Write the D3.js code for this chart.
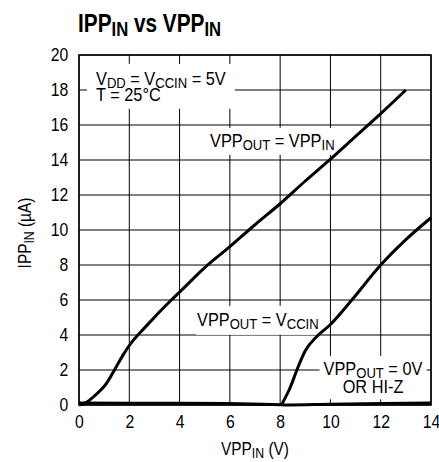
<!DOCTYPE html>
<html>
<head>
<meta charset="utf-8">
<script src="https://cdn.jsdelivr.net/npm/d3@7"></script>
<style>
  body { margin: 0; background: #fff; }
  svg text { font-family: "Liberation Sans Narrow", "Arial Narrow", "Liberation Sans", Arial, sans-serif; fill: #000; }
</style>
</head>
<body>
<div id="chart"></div>
<script>
// values (VPPIN in V, IPPIN in uA)
const xTicks = [0, 2, 4, 6, 8, 10, 12, 14];
const yTicks = [0, 2, 4, 6, 8, 10, 12, 14, 16, 18, 20];

// VPPOUT = VPPIN
const curveFollowX = [0, 0.3, 0.6, 1.1, 1.45, 1.75, 2, 2.7, 3.6, 4, 5, 6, 7, 8, 9, 10, 11, 12, 13];
const curveFollowY = [0, 0.15, 0.5, 1.25, 2.1, 2.85, 3.4, 4.55, 5.9, 6.45, 7.85, 9.05, 10.3, 11.5, 12.8, 14.05, 15.35, 16.65, 18.0];

// VPPOUT = VCCIN
const curveVccX = [8.05, 8.4, 8.72, 9.0, 9.45, 10, 10.85, 12, 13, 14];
const curveVccY = [0, 1.0, 2.2, 3.1, 3.9, 4.6, 6.0, 8.0, 9.45, 10.7];

// VPPOUT = 0V or HI-Z
const curveOffX = [0, 2, 4, 6, 8, 8.2, 10, 12, 14];
const curveOffY = [0.12, 0.1, 0.1, 0.08, 0.02, 0, 0.04, 0.08, 0.12];

const W = 439, H = 462;
const plot = { left: 79, right: 431, top: 55, bottom: 405 };
// no condensed face installed, so squeeze the regular one
const NARROW = 0.86;

const svg = d3.select("#chart").append("svg")
    .attr("width", W)
    .attr("height", H);

const x = d3.scaleLinear().domain([0, 14]).range([plot.left, plot.right]);
const y = d3.scaleLinear().domain([0, 20]).range([plot.bottom, plot.top]);

// text with subscripts: parts = [[text, isSub], ...]
const richText = (g, px, py, parts, size, anchor, subShift = 0.18) => {
    const t = g.append("text")
        .attr("x", px).attr("y", py)
        .attr("font-size", size)
        .attr("text-anchor", anchor || "start");
    let shifted = false;
    parts.forEach(([s, sub]) => {
        const ts = t.append("tspan").text(s);
        if (sub && !shifted) { ts.attr("font-size", size * 0.8).attr("dy", size * subShift); shifted = true; }
        else if (sub) ts.attr("font-size", size * 0.8);
        else if (shifted) { ts.attr("dy", -size * subShift); shifted = false; }
    });
    return t;
}

const squeezed = (parent, px, py, sx) => parent.append("g")
    .attr("transform", `translate(${px},${py}) scale(${sx},1)`);

// title
richText(squeezed(svg, 78, 32, 0.8), 0, 0, [["IPP"], ["IN", 1], [" vs VPP"], ["IN", 1]], 26, "start", 0.17)
    .attr("font-weight", "bold");

// grid
const grid = svg.append("g");
grid.selectAll(".vgrid").data(xTicks).join("line")
    .attr("x1", d => x(d)).attr("x2", d => x(d))
    .attr("y1", plot.top).attr("y2", plot.bottom)
    .attr("stroke", "#000").attr("stroke-width", 1);
grid.selectAll(".hgrid").data(yTicks).join("line")
    .attr("x1", plot.left).attr("x2", plot.right)
    .attr("y1", d => y(d)).attr("y2", d => y(d))
    .attr("stroke", "#000").attr("stroke-width", 1);

// tick labels
const xAxis = svg.append("g")
    .attr("transform", `translate(0,${plot.bottom})`)
    .call(d3.axisBottom(x).tickValues(xTicks).tickSize(0).tickPadding(11));
const yAxis = svg.append("g")
    .attr("transform", `translate(${plot.left},0)`)
    .call(d3.axisLeft(y).tickValues(yTicks).tickSize(0).tickPadding(12));
[xAxis, yAxis].forEach(a => {
    a.select(".domain").remove();
    a.selectAll("text").attr("font-size", 17.5)
        .attr("font-family", null)
        .attr("transform", "scale(0.9,1)");
});

// axis titles
richText(squeezed(svg, (plot.left + plot.right) / 2, 455, 0.88), 0, 0,
    [["VPP"], ["IN", 1], [" (V)"]], 17.5, "middle");
richText(svg.append("g").attr("transform", `translate(31,${(plot.top + plot.bottom) / 2 + 3}) rotate(-90) scale(0.88,1)`),
    0, 0, [["IPP"], ["IN", 1], [" (\u00b5A)"]], 17.5, "middle");

// annotations, each sits on a white patch that breaks the grid
const notes = svg.append("g");
const backed = (px, py, lines, padX, padY) => {
    const g = squeezed(notes, px, py, NARROW);
    const rect = g.append("rect").attr("fill", "#fff");
    lines.forEach(l => richText(g, 0, l.dy, l.parts, 19, l.anchor, 0.14));
    const bb = g.selectAll("text").nodes().map(n => n.getBBox());
    const x0 = d3.min(bb, b => b.x), x1 = d3.max(bb, b => b.x + b.width);
    const y0 = d3.min(bb, b => b.y), y1 = d3.max(bb, b => b.y + b.height);
    rect.attr("x", x0 - padX / NARROW).attr("y", y0 - padY)
        .attr("width", x1 - x0 + 2 * padX / NARROW).attr("height", y1 - y0 + 2 * padY);
}

backed(96, 85, [
    { dy: 0, parts: [["V"], ["DD", 1], [" = V"], ["CCIN", 1], [" = 5V"]] },
    { dy: 15.5, parts: [["T = 25\u00b0C"]] }
], 9, 4);
backed(210, 147, [{ dy: 0, parts: [["VPP"], ["OUT", 1], [" = VPP"], ["IN", 1]] }], 1, 2);
backed(197, 326, [{ dy: 0, parts: [["VPP"], ["OUT", 1], [" = V"], ["CCIN", 1]] }], 1, 3);
backed(373, 375, [
    { dy: 0, parts: [["VPP"], ["OUT", 1], [" = 0V"]], anchor: "middle" },
    { dy: 18, parts: [["OR HI-Z"]], anchor: "middle" }
], 4, 2);

// frame
svg.append("rect")
    .attr("x", plot.left).attr("y", plot.top)
    .attr("width", plot.right - plot.left).attr("height", plot.bottom - plot.top)
    .attr("fill", "none").attr("stroke", "#000").attr("stroke-width", 1.5);

// curves
const line = d3.line()
    .x(d => x(d[0])).y(d => y(d[1]))
    .curve(d3.curveMonotoneX);
const series = [
    d3.zip(curveFollowX, curveFollowY),
    d3.zip(curveVccX, curveVccY),
    d3.zip(curveOffX, curveOffY)
];
svg.append("g").selectAll("path").data(series).join("path")
    .attr("d", line)
    .attr("fill", "none")
    .attr("stroke", "#000")
    .attr("stroke-width", 3)
    .attr("stroke-linejoin", "round");
</script>
</body>
</html>
